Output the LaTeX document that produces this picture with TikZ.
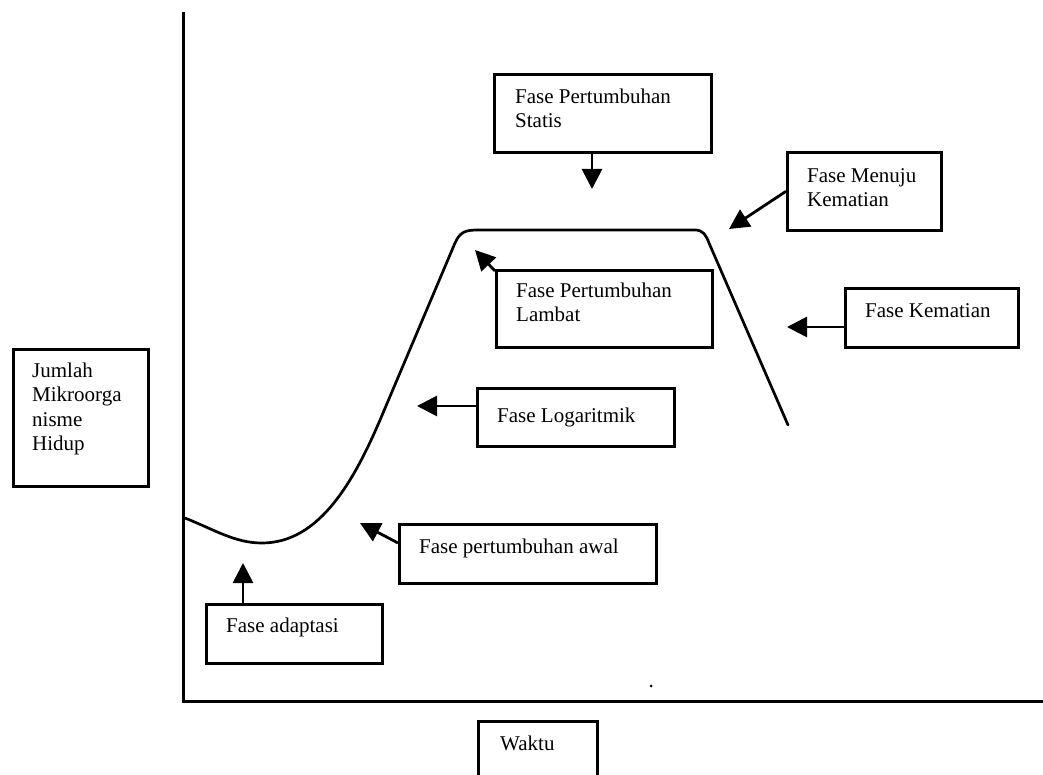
\documentclass[tikz,border=0pt]{standalone}
\usepackage{fontspec}
\setmainfont{Liberation Serif}
\usetikzlibrary{arrows.meta,calc}
\begin{document}
\begin{tikzpicture}[x=1pt,y=-1pt,
  box/.style={draw,line width=2.6pt,inner sep=0pt,anchor=north west},
  lbl/.style={anchor=north west,inner sep=0pt,align=left,font=\fontsize{21}{24.5}\selectfont},
  pointer/.style={line width=2.8pt,-{Triangle[length=20pt,width=20pt]}},
  axisline/.style={line width=3pt},
  growth/.style={line width=2.7pt,line join=round,line cap=round}]
\useasboundingbox (0,0) rectangle (1043,775);
\clip (0,0) rectangle (1043,775);
\fill[white] (0,0) rectangle (1043,775);

% axes
\coordinate (ytop) at (183,12);
\coordinate (origin) at (183,701);
\coordinate (xend) at (1045,701);
\draw[axisline] (ytop) -- (origin) -- (xend);

% growth curve
\draw[growth] (185,518) .. controls (215,530) and (235,543) .. (262,543)
  .. controls (320,543) and (355,480) .. (383,413)
  -- (455,243) .. controls (460,232) and (465,230) .. (478,230)
  -- (695,230) .. controls (703,230) and (706,235) .. (709,243)
  -- (788,425);

% boxes
\node[box,minimum width=135pt,minimum height=137pt] (jumlah) at (12,348) {};
\node[box,minimum width=176pt,minimum height=59pt] (adapt) at (205,603) {};
\node[box,minimum width=257pt,minimum height=59pt] (awal) at (398,523) {};
\node[box,minimum width=197pt,minimum height=58pt] (logb) at (476,387) {};
\node[box,minimum width=216pt,minimum height=77pt] (lambat) at (495,269) {};
\node[box,minimum width=217pt,minimum height=78pt] (statis) at (493,73) {};
\node[box,minimum width=154pt,minimum height=78pt] (menuju) at (786,151) {};
\node[box,minimum width=173pt,minimum height=59pt] (kem) at (844,287) {};
\node[box,minimum width=119pt,minimum height=80pt] (waktu) at (477,720) {};

% labels
\node[lbl] (jumlahT) at (32,360) {\strut Jumlah\\Mikroorga\\nisme\\Hidup};
\node[lbl] (adaptT) at (226,615) {\strut Fase adaptasi};
\node[lbl] (awalT) at (419,536) {\strut Fase pertumbuhan awal};
\node[lbl] (logbT) at (497,405) {\strut Fase Logaritmik};
\node[lbl] (lambatT) at (516,280) {\strut Fase Pertumbuhan\\Lambat};
\node[lbl] (statisT) at (515,86) {\strut Fase Pertumbuhan\\Statis};
\node[lbl] (menujuT) at (807,165) {\strut Fase Menuju\\Kematian};
\node[lbl] (kemT) at (865,300) {\strut Fase Kematian};
\node[lbl] (waktuT) at (500,733) {\strut Waktu};

% arrows
\coordinate (tA) at (243,563);
\draw[pointer] (adapt.north -| tA) -- (tA);
\coordinate (tW) at (360,523);
\draw[pointer] ($(awal.north west)+(0,20)$) -- (tW);
\coordinate (tL) at (417,406);
\draw[pointer] (logb.west |- tL) -- (tL);
\coordinate (tLa) at (475,250);
\draw[pointer] ($(lambat.north west)+(0,2)$) -- (tLa);
\coordinate (tS) at (592,189);
\draw[pointer] (statis.south -| tS) -- (tS);
\coordinate (tM) at (729,229);
\draw[pointer] (menuju.west) -- (tM);
\coordinate (tK) at (787,327);
\draw[pointer] (kem.west |- tK) -- (tK);

% stray dot
\fill (651,686) circle (1.5pt);
\end{tikzpicture}
\end{document}
